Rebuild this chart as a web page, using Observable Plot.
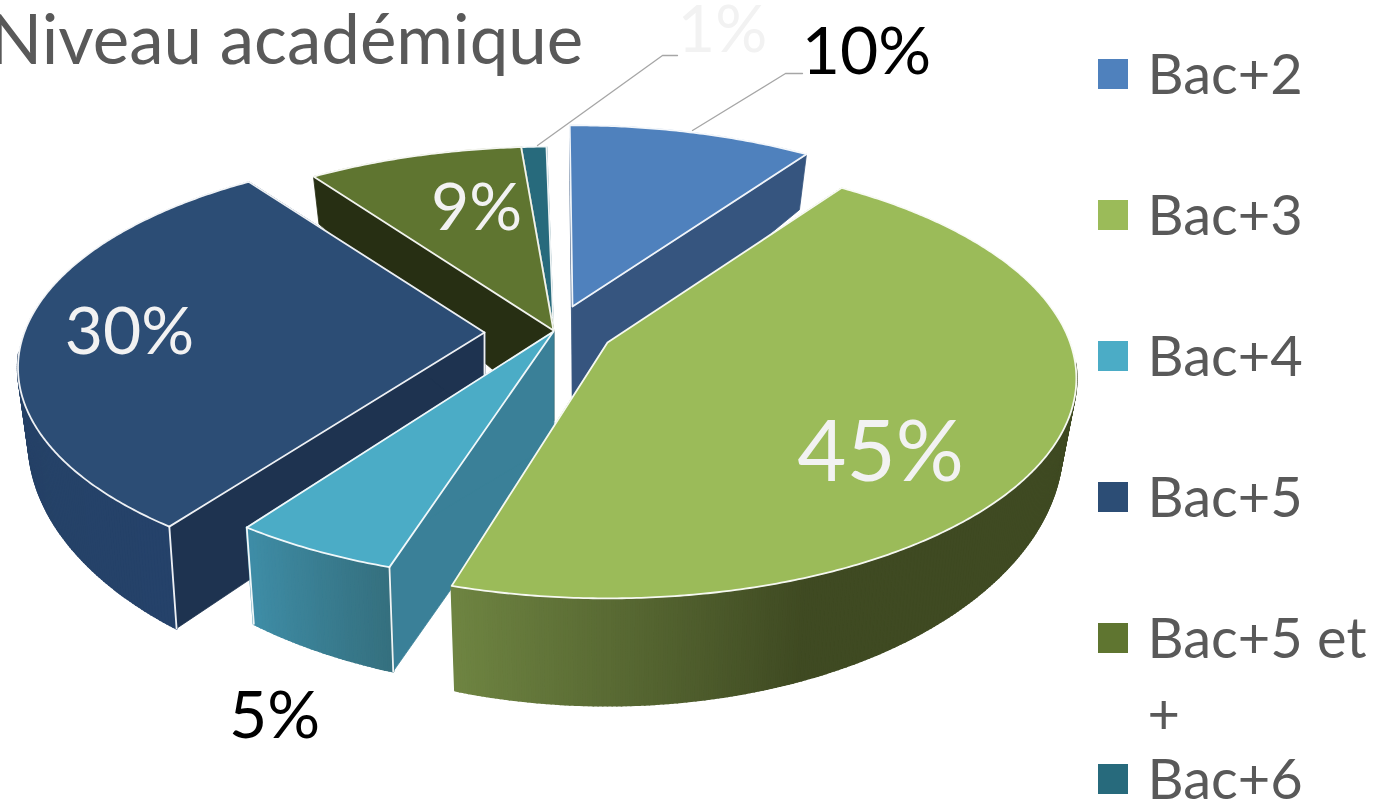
<!DOCTYPE html>
<html><head><meta charset="utf-8">
<script src="https://cdn.jsdelivr.net/npm/d3@7"></script>
<script src="https://cdn.jsdelivr.net/npm/@observablehq/plot@0.6"></script>
<style>html,body{margin:0;padding:0;background:#fff;overflow:hidden}svg{display:block}</style>
</head><body><div id="chart"></div>
<script>
const categories = ["Bac+2","Bac+3","Bac+4","Bac+5","Bac+5 et +","Bac+6"];
const shares = [10,45,5,30,9,1];
const shareLabels = ["10%","45%","5%","30%","9%","1%"];
const chartTitle = "Niveau académique";

// styles
const topColors = ["#4f81bd","#9bbb59","#4bacc6","#2c4d75","#5f7530","#276a7c"];
const radialColors = ["#36557f","#3f4a22","#3a8098","#1e3350","#272f13","#1a4753"];
const wallColors = [["#36557f","#36557f"],["#6f8542","#3f4a22"],["#3f8ea8","#35707f"],["#24405f","#25426a"],["#272f13","#272f13"],["#1a4753","#1a4753"]];
const labelColors = ["#000000","#f2f2f2","#000000","#f2f2f2","#f2f2f2","#f2f2f2"];
const labelSizes = [66,85,66,66,66,65];
// layout of the exploded projection
const apexX = [572,607,553,484,553,553];
const apexY = [306,342,331,332,330,330];
const apexDepth = [90,90,112,90,90,90];
const radiusX = [.985,.985,.975,.98,1,1];
const radiusY = [.985,1,.975,.98,1,1];
const angleNudge = [[.6,0],[0,-.5],[.6,.5],[1.5,1.5],[1.6,0],[0,0]];
const depthExtra = [8,0,0,6,0,0];
const paintOrder = [5,4,0,3,2,1];
const labelAt = [[866,52],[880,453],[274,716],[129,332],[476,208],[722,31]];
const legendX = 1098, legendY0 = 74, legendStep = 141;
const startAngle = -1, K = .1636, RX = 469.6, RY = 214;

const rad = d => d*Math.PI/180;
function topPoint(i,deg){
  const u=Math.sin(rad(deg)), v=-Math.cos(rad(deg)), w=1-K*v;
  return {X:apexX[i]+radiusX[i]*RX*u/w, Y:apexY[i]+radiusY[i]*RY*v/w, v};
}
function bottomPoint(i,deg){
  const p=topPoint(i,deg), dx=p.X-apexX[i];
  const d=62+30*p.v+15*p.v*p.v+depthExtra[i];
  return {X:apexX[i]+dx*(dx>0?.97:.977), Y:p.Y+d};
}
let acc=startAngle;
const arcs=shares.map((s,i)=>{const a0=acc; acc+=s*3.6; return [a0+angleNudge[i][0],acc+angleNudge[i][1]];});

const walls=[];
let id=0;
function poly(pts,fill,width=.8){const k=id++; pts.forEach(p=>walls.push({id:k,x:p.X,y:p.Y,fill,width}));}
function outline(pts){const k=id++; pts.forEach(p=>walls.push({id:k,x:p.X,y:p.Y,outline:true}));}
for(const i of paintOrder){
  const [a0,a1]=arcs[i], A={X:apexX[i],Y:apexY[i]}, B={X:apexX[i],Y:apexY[i]+apexDepth[i]};
  for(const a of [a0,a1]) poly([A,topPoint(i,a),bottomPoint(i,a),B],radialColors[i]);
  const col=d3.interpolateRgb(wallColors[i][0],wallColors[i][1]);
  const n=Math.max(1,Math.ceil((a1-a0)*2));
  for(let j=n-1;j>=0;j--){
    const s=a0+(a1-a0)*j/n, e=a0+(a1-a0)*(j+1)/n;
    if(topPoint(i,s).v<.1&&topPoint(i,e).v<.1) continue; // back of the wall is hidden
    const t=i===1?Math.min(1,(a1-s)/38):(a1-s)/(a1-a0);
    poly([topPoint(i,s),topPoint(i,e),bottomPoint(i,e),bottomPoint(i,s)],col(t),2.4);
  }
  const pts=[A]; for(let j=0;j<=n;j++) pts.push(topPoint(i,a0+(a1-a0)*j/n));
  poly(pts,topColors[i]);
  outline([...pts,A]);
  if(i===3) outline([A,{X:A.X,Y:A.Y+42}]);
  if(i===2||i===3) outline([topPoint(i,a0),bottomPoint(i,a0)]);
  if(i===2) outline([topPoint(i,a1),bottomPoint(i,a1)]);
}
const faceMarks=d3.groups(walls,d=>d.id).map(([k,g])=>g[0].outline
  ? Plot.line(g,{x:"x",y:"y",stroke:"#ffffff",strokeOpacity:.92,strokeWidth:1.8})
  : Plot.line(g,{x:"x",y:"y",fill:g[0].fill,stroke:g[0].fill,strokeWidth:g[0].width,curve:"linear-closed"}));

const leaders=[
  {id:"a",x:692,y:130},{id:"a",x:785,y:73},{id:"a",x:802,y:73},
  {id:"b",x:537,y:145},{id:"b",x:662,y:55},{id:"b",x:677,y:55}];
const legend=categories.map((c,i)=>({c,i,label:c.replace(" et +"," et\n+"),color:topColors[i],y:legendY0+i*legendStep}));
const labels=shareLabels.map((t,i)=>({t,x:labelAt[i][0],y:labelAt[i][1],size:labelSizes[i],color:labelColors[i]}));

const plot=Plot.plot({
  width:1379,height:800,margin:0,
  x:{domain:[0,1379],range:[0,1379],axis:null},
  y:{domain:[0,800],range:[0,800],axis:null},
  style:{fontFamily:"Lato, 'Open Sans', sans-serif",background:"#fff"},
  marks:[
    ...faceMarks,
    Plot.line(leaders,{x:"x",y:"y",z:"id",stroke:"#a6a6a6",strokeWidth:1.3}),
    ...labels.map(l=>Plot.text([l],{x:"x",y:"y",text:"t",fontSize:l.size,fill:l.color})),
    Plot.text([chartTitle],{x:()=>-11,y:()=>41,text:d=>d,textAnchor:"start",fontSize:69,fill:"#595959"}),
    Plot.rect(legend,{x1:()=>legendX,x2:()=>legendX+30,y1:d=>d.y-15,y2:d=>d.y+15,fill:"color"}),
    Plot.text(legend,{x:()=>legendX+49,y:d=>(d.i===4?d.y+38:d.y)-5,text:"label",textAnchor:"start",fontSize:56,lineHeight:1.37,fill:"#595959"})
  ]
});
document.getElementById("chart").append(plot);
</script></body></html>
